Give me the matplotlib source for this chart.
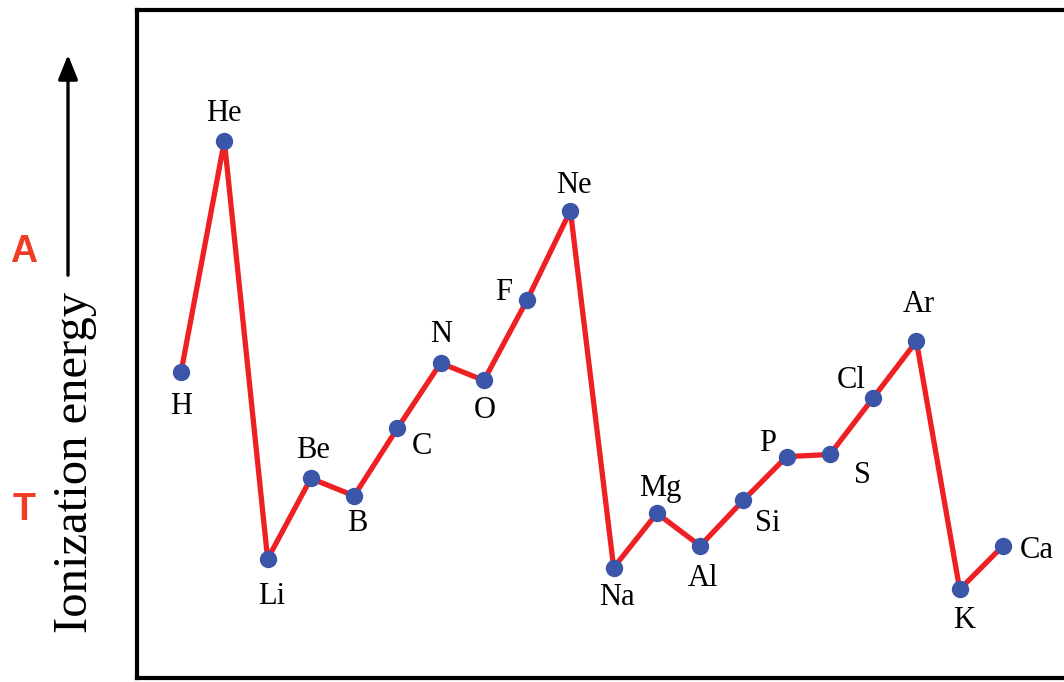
import matplotlib.pyplot as plt

# first ionization energies (eV), H through Ca
elements = ['H', 'He', 'Li', 'Be', 'B', 'C', 'N', 'O', 'F', 'Ne',
            'Na', 'Mg', 'Al', 'Si', 'P', 'S', 'Cl', 'Ar', 'K', 'Ca']
energy = [14.0, 24.6, 5.4, 9.1, 8.3, 11.4, 14.4, 13.6, 17.3, 21.4,
          5.0, 7.5, 6.0, 8.1, 10.1, 10.2, 12.8, 15.4, 4.0, 6.0]

# label offsets in pixels (dx, dy), screen y up
offsets = {'H': (0, -35), 'He': (0, 28), 'Li': (4, -38), 'Be': (2, 28),
           'B': (3, -28), 'C': (25, -18), 'N': (0, 29), 'O': (1, -30),
           'F': (-24, 7), 'Ne': (3, 25), 'Na': (3, -30), 'Mg': (3, 25),
           'Al': (3, -33), 'Si': (24, -23), 'P': (-19, 13), 'S': (33, -21),
           'Cl': (-22, 17), 'Ar': (2, 37), 'K': (4, -31), 'Ca': (34, -5)}

W, H = 1064, 682
fig = plt.figure(figsize=(W / 100, H / 100), dpi=100)
ax = fig.add_axes([137 / W, 4 / H, (1090 - 137) / W, (672 - 4) / H])

x = list(range(len(elements)))
ax.plot(x, energy, color='#ee2024', lw=3.8, zorder=2)
ax.plot(x, energy, 'o', color='#3b56a8', ms=11.5, zorder=3)

for i, (el, e) in enumerate(zip(elements, energy)):
    dx, dy = offsets[el]
    ax.annotate(el, (i, e), xytext=(dx * 0.72, dy * 0.72), textcoords='offset points',
                ha='center', va='center', fontsize=22, family='Liberation Serif')

ax.set_xlim(-1.02, (1090 - 181) / 43.26)
ax.set_ylim(-0.07, 30.62)
ax.set_xticks([])
ax.set_yticks([])
for s in ax.spines.values():
    s.set_linewidth(3.0)
    s.set_clip_on(False)

# axis title with an upward arrow
fig.text(75 / W, 1 - 462 / H, 'Ionization energy', rotation=90, ha='center', va='center',
         fontsize=35, family='Liberation Serif')
fig.patches.append(plt.matplotlib.patches.FancyArrowPatch(
    (68 / W, 1 - 278 / H), (68 / W, 1 - 52 / H), transform=fig.transFigure,
    arrowstyle='-|>,head_length=10,head_width=4', color='black', lw=2.4,
    mutation_scale=1.5))

fig.text(24 / W, 1 - 252 / H, 'A', color='#f03c24', fontsize=27, fontweight='bold',
         family='Liberation Sans', ha='center', va='center')
fig.text(24 / W, 1 - 510 / H, 'T', color='#f03c24', fontsize=27, fontweight='bold',
         family='Liberation Sans', ha='center', va='center')

fig.savefig('out.png', dpi=100)
